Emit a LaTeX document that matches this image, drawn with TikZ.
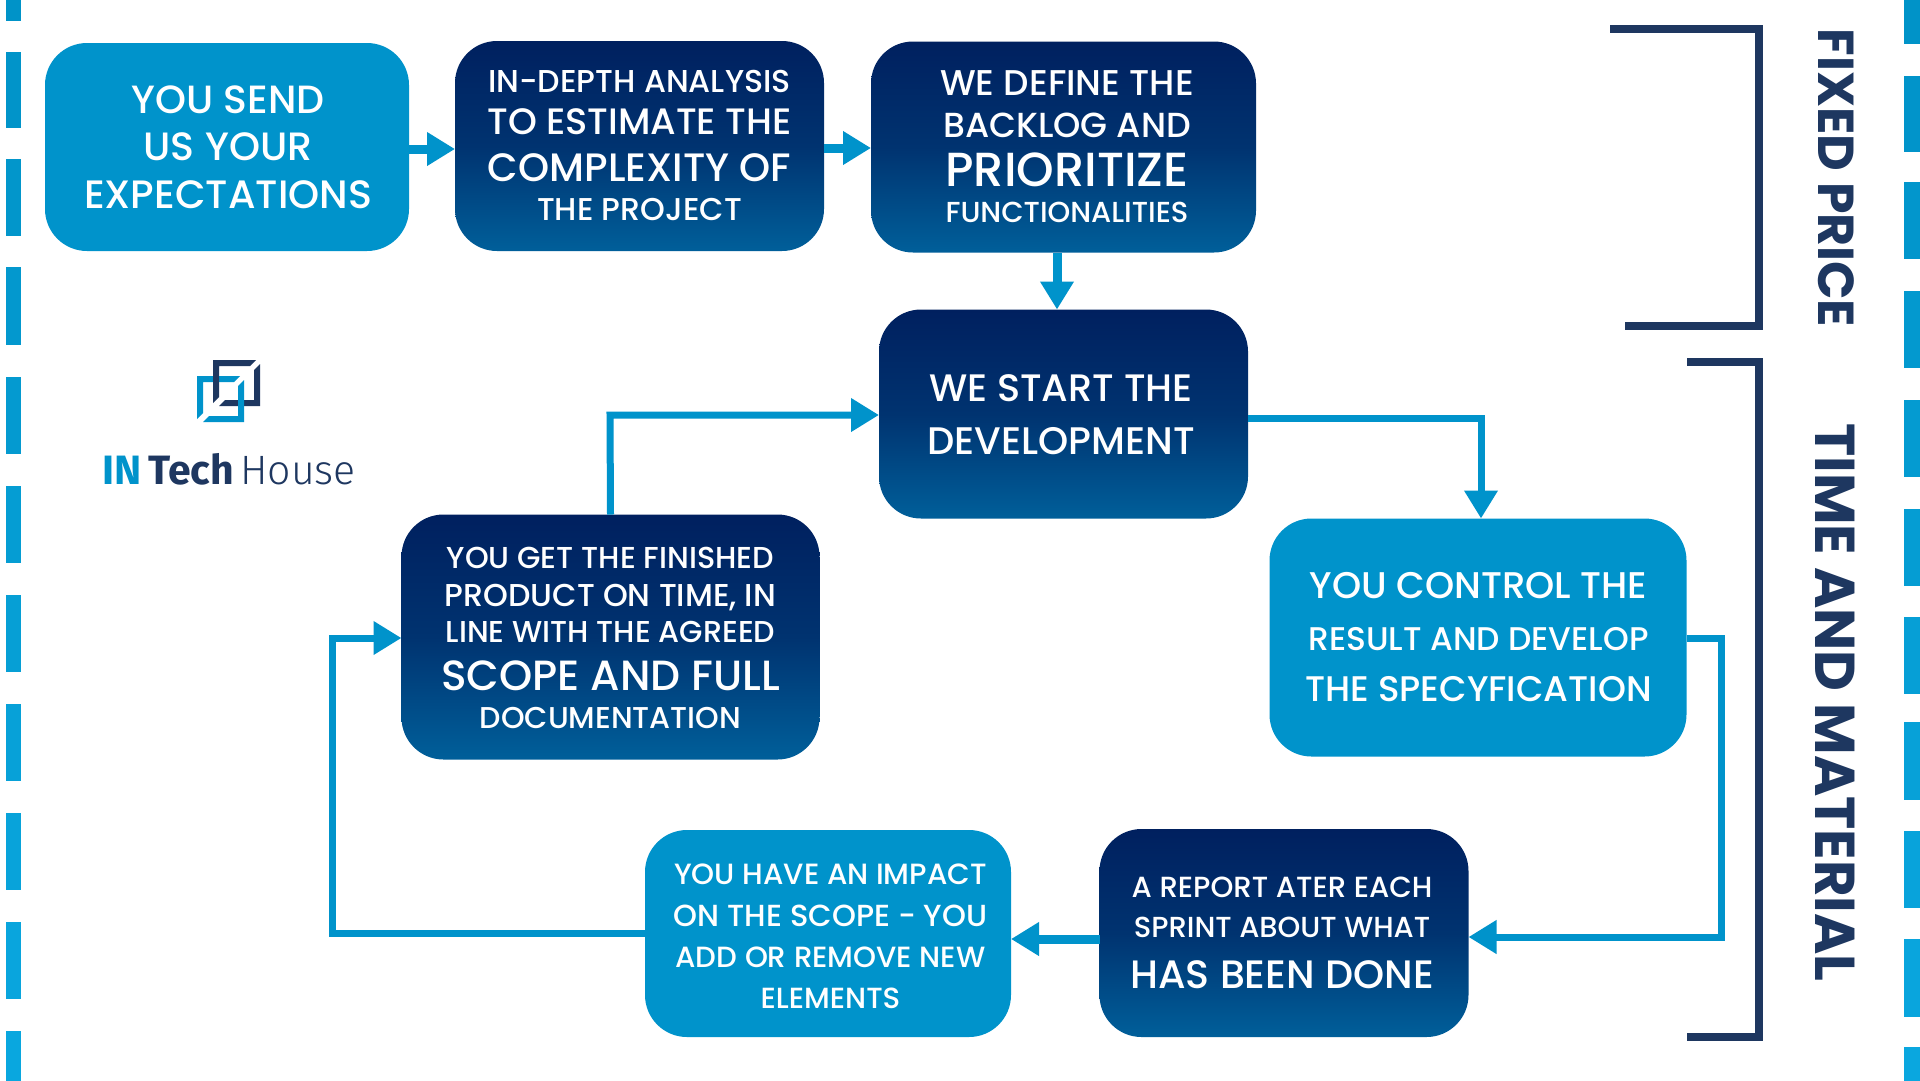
\documentclass[tikz,border=0pt]{standalone}
\usepackage{fontspec}
\setmainfont{Poppins Medium}[BoldFont=Poppins Bold]
\newfontfamily\firab{Fira Sans}
\newfontfamily\firal{Fira Sans Light}
\usetikzlibrary{arrows.meta}
\definecolor{lightb}{HTML}{0093CB}
\definecolor{navy}{HTML}{00205F}
\definecolor{navym}{HTML}{003370}
\definecolor{navyb}{HTML}{005F9A}
\definecolor{brk}{HTML}{1E3760}
\definecolor{dashA}{HTML}{0093C8}
\definecolor{dashB}{HTML}{0AA8E0}
% text line fitted to a target width (#1), baseline #2 below the node centre
\newsavebox\tlbox
\newlength\tlsize
\newcommand\TL[3]{\sbox\tlbox{\fontsize{20pt}{20pt}\selectfont #3}%
  \setlength\tlsize{\dimexpr 20pt*#1/\numexpr\wd\tlbox/65536\relax\relax}%
  \hbox to 0pt{\hss\raisebox{\dimexpr -#2pt\relax}[0pt][0pt]{\fontsize{\tlsize}{\tlsize}\selectfont #3}\hss}}
\tikzset{
  box/.style={rounded corners=42pt,minimum width=#1,inner sep=0pt,outer sep=0pt,text=white},
  lightbox/.style={box=#1,fill=lightb},
  darkbox/.style={box=#1,top color=navy,bottom color=navyb,middle color=navym},
  thick arrow/.style={draw=lightb,line width=9pt,-{Triangle[length=28pt,width=32pt]}},
  thin arrow/.style={draw=lightb,line width=7pt,-{Triangle[length=28pt,width=32pt]}},
  bracket/.style={draw=brk,line width=8pt},
  side/.style={rotate=-90,inner sep=0pt,text=brk,font=\bfseries},
}
\begin{document}
\begin{tikzpicture}[x=1pt,y=-1pt]
\useasboundingbox (0,0) rectangle (1920,1080);
\fill[white] (0,0) rectangle (1920,1080);
% dashed side bands
\foreach \a/\b in {-56/21,52/128,159/236,267/345,377/454,486/563,595/672,704/781,813/890,922/999,1031/1108}{
  \pgfmathsetmacro\p{max(0,min(100,\a/10.8))}
  \fill[dashB!\p!dashA] (6,\a) rectangle (21,\b);}
\foreach \a/\b in {-32/44,76/152,182/259,291/368,400/477,509/586,617/694,722/800,831/908,939/1017,1047/1124}{
  \pgfmathsetmacro\p{max(0,min(100,\a/10.8))}
  \fill[dashB!\p!dashA] (1904,\a) rectangle (1925,\b);}
% boxes
\node[lightbox=364pt,minimum height=208pt] (A) at (227,147) {\kern2pt\TL{193}{-34}{YOU SEND}\TL{168}{13}{US YOUR}\TL{287}{61}{EXPECTATIONS}};
\node[darkbox=369pt,minimum height=210pt] (B) at (639.5,146) {\TL{302}{-54}{IN-DEPTH ANALYSIS}\TL{305}{-12}{TO ESTIMATE THE}\TL{303}{35}{COMPLEXITY OF}\TL{205}{74}{THE PROJECT}};
\node[darkbox=385pt,minimum height=211pt] (C) at (1063.5,147) {\kern7pt\TL{254}{-51.5}{WE DEFINE THE}\TL{247}{-10}{BACKLOG AND}\TL{244}{39.5}{PRIORITIZE}\TL{243}{75.5}{FUNCTIONALITIES}};
\node[darkbox=369pt,minimum height=209pt] (D) at (1063.5,414) {\TL{264}{-12.5}{WE START THE}\TL{267}{40}{DEVELOPMENT}\kern5pt};
\node[lightbox=417pt,minimum height=238pt] (E) at (1478,637.5) {\kern1pt\TL{338}{-39}{YOU CONTROL THE}\TL{341}{12.5}{RESULT AND DEVELOP}\TL{347}{63.5}{THE SPECYFICATION}};
\node[darkbox=369pt,minimum height=208pt] (F) at (1284,933) {\TL{300}{-36}{A REPORT ATER EACH}\TL{297}{4}{SPRINT ABOUT WHAT}\TL{303}{55}{HAS BEEN DONE}\kern4pt};
\node[lightbox=366pt,minimum height=207pt] (G) at (828,933.5) {\kern5pt\TL{312}{-49.5}{YOU HAVE AN IMPACT}\TL{314}{-7.5}{ON THE SCOPE - YOU}\TL{310}{33.5}{ADD OR REMOVE NEW}\TL{140}{75}{ELEMENTS}};
\node[darkbox=418pt,minimum height=245pt] (H) at (610.5,637) {\TL{327}{-69}{YOU GET THE FINISHED}\TL{332}{-30.5}{PRODUCT ON TIME, IN}\TL{329}{5.5}{LINE WITH THE AGREED}\TL{338}{53}{SCOPE AND FULL}\TL{262}{91.5}{DOCUMENTATION}};
% connectors
\draw[thick arrow] (A.east |- 0,149) -- (B.west |- 0,149);
\draw[thick arrow] (B.east |- 0,148) -- (C.west |- 0,148);
\draw[thick arrow] (C.south -| 1057,0) -- (D.north -| 1057,0);
\draw[thin arrow] (H.north) -- (610,415) -- (D.west |- 0,415);
\draw[thin arrow] (D.east |- 0,418) -- (1481,418) -- (E.north -| 1481,0);
\draw[thin arrow] (E.east |- 0,638) -- (1721,638) -- (1721,937) -- (F.east |- 0,937);
\draw[thick arrow] (F.west |- 0,939) -- (G.east |- 0,939);
\draw[thin arrow] (G.west |- 0,933) -- (332,933) -- (332,638) -- (H.west |- 0,638);
% brackets
\draw[bracket] (1610,29) -- (1759,29) -- (1759,326) -- (1625,326);
\draw[bracket] (1687,362) -- (1759,362) -- (1759,1037) -- (1687,1037);
\node[side] (fp) at (1818,178) {\TL{298}{0}{FIXED PRICE}};
\node[side] (tm) at (1815,702.5) {\TL{559}{0}{TIME AND MATERIAL}};
% logo
\fill[lightb] (197,376)--(240,376)--(234,382)--(203,382)--(203,413)--(197,419)--cycle;
\fill[brk] (260,364)--(260,406)--(219,406)--(225,400)--(254,400)--(254,370)--cycle;
\fill[brk] (213,360)--(256,360)--(250,366)--(219,366)--(219,397)--(213,403)--cycle;
\fill[lightb] (244,380)--(244,422)--(203,422)--(209,416)--(238,416)--(238,386)--cycle;
\node[inner sep=0pt,anchor=base west] (logo) at (102,484) {\fontsize{41pt}{41pt}\selectfont\firab\bfseries\textcolor{lightb}{IN}\kern7pt\textcolor{brk}{Tech}\kern6pt\firal\mdseries\textcolor{brk}{House}};
\end{tikzpicture}
\end{document}
